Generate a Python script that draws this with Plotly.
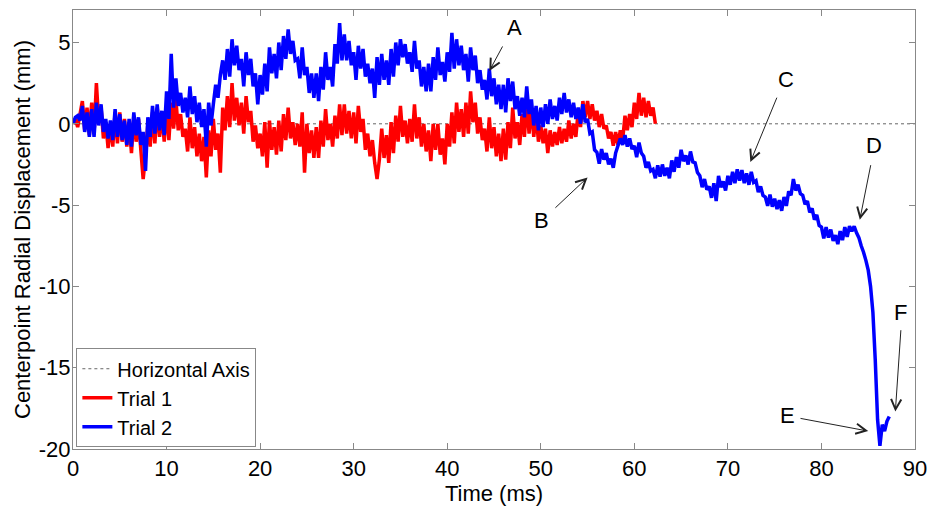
import numpy as np
import plotly.graph_objects as go

# sample spacing of both trials (ms)
dt = 0.25

trial2 = [
    0.0, 0.4, 0.5, 0.2,  1.1, -0.5, 0.7, -0.8,  0.9, -0.8, 1.3, -0.1,  1.2, -0.5, 0.3, -0.9,
    0.2, -1.0, 0.9, -0.8,  0.6, -1.0, 0.2, -1.3,  0.3, -1.4, 0.7, -0.7,  0.4, -1.3, -0.5, -2.9,
    0.4, -0.8, 1.1, -0.6,  1.2, -0.4, 0.8, -0.7,  2.0, 0.3, 4.3, 1.0,  2.8, 1.1, 1.9, 0.7,
    1.6, 0.4, 2.3, 0.6,  1.7, 0.1, 1.3, -0.2,  0.9, -1.4, 1.3, -0.1,  1.2, 2.4, 1.6, 3.0,
    3.9, 2.7, 4.6, 2.9,  5.2, 3.6, 4.8, 3.3,  4.0, 2.3, 4.4, 3.0,  4.0, 2.3, 3.1, 1.2,
    3.0, 1.8, 3.7, 2.0,  4.7, 3.1, 4.3, 2.8,  5.0, 3.3, 5.4, 4.0,  5.8, 4.3, 5.1, 3.9,
    4.0, 2.8, 4.7, 3.0,  3.5, 1.9, 3.1, 1.6,  3.1, 1.4, 3.5, 2.1,  4.4, 2.7, 3.5, 2.3,
    4.9, 3.7, 6.2, 3.9,  5.5, 3.9, 5.1, 3.6,  4.4, 2.7, 4.8, 3.4,  4.6, 2.9, 3.7, 2.5,
    3.4, 1.6, 4.1, 2.4,  4.3, 2.7, 3.9, 2.4,  4.6, 2.9, 5.0, 3.6,  5.2, 4.1, 4.9, 3.7,
    4.4, 3.2, 5.1, 3.4,  3.9, 2.3, 3.5, 2.0,  3.7, 2.0, 4.1, 2.7,  4.7, 3.0, 3.8, 2.6,
    4.4, 3.2, 5.6, 3.4,  5.2, 3.6, 4.8, 3.3,  4.3, 2.6, 4.7, 3.3,  4.2, 2.5, 3.3, 2.1,
    2.7, 1.5, 3.4, 1.7,  2.8, 1.2, 2.4, 0.9,  2.4, 0.7, 2.8, 1.4,  2.6, 0.9, 1.7, 0.5,
    1.6, 0.4, 2.3, 0.6,  1.5, -0.1, 1.1, -0.4,  1.0, -0.2, 1.2, 0.0,  1.5, 0.3, 1.1, 0.2,
    1.6, 0.6, 1.9, 0.7,  1.5, 0.4, 1.3, 0.3,  1.0, 0.0, 1.2, 0.1,  0.3, -0.6, -0.5, -1.6,
    -1.75, -2.45, -1.55, -2.2,  -1.8, -2.5, -2.15, -2.7,  -1.8, -1.35, -0.9, -1.3,
    -0.7, -1.4, -0.9, -1.55,  -1.35, -2.05, -1.15, -1.8,  -2.0, -2.7, -2.35, -2.9,
    -2.8, -3.35, -2.55, -3.25,  -2.5, -3.2, -2.7, -3.35,  -2.25, -2.95, -2.05, -2.7,
    -1.6, -2.3, -1.95, -2.5,  -1.7, -2.35, -2.4, -3.0,  -3.2, -3.9, -3.4, -4.05,
    -3.85, -4.55, -3.65, -4.75,  -3.2, -3.9, -3.55, -4.1,  -3.2, -3.75, -2.95, -3.65,
    -2.8, -3.5, -2.85, -3.65,  -3.05, -3.75, -2.95, -3.6,  -3.5, -4.2, -3.85, -4.4,
    -4.5, -5.05, -4.35, -5.1,  -4.6, -5.25, -4.7, -5.35,  -4.5, -5.05, -4.15, -4.4,
    -3.4, -4.1, -3.75, -4.3,  -4.4, -4.95, -4.75, -5.45,  -5.2, -5.9, -5.6, -6.25,
    -6.35, -7.05, -6.35, -7.0,  -6.5, -7.2, -6.85, -7.4,  -6.6, -7.15, -6.35, -6.95,
    -6.3, -6.6, -6.3, -6.7,  -7.0, -7.5, -7.9, -8.4,  -9.0, -10.0, -11.6, -14.5,
    -18.2, -19.8, -18.5, -18.9,  -18.3, -18.0,
]

trial1 = [
    0.0, 0.3, -0.2, 0.6,  1.4, -0.4, 1.0, -0.7,  1.3, -0.6, 2.5, 0.1,  1.0, -0.9, 0.1, -1.5,
    0.0, -1.4, 0.7, -1.2,  0.7, -1.1, 0.3, -1.4,  0.1, -1.8, 0.5, -1.1,  0.3, -1.6, -3.4, -2.0,
    0.0, -1.4, 0.7, -1.2,  1.0, -0.8, 0.6, -1.1,  0.9, -1.0, 1.3, -0.3,  1.5, -0.4, 0.6, -0.8,
    -0.3, -1.7, 0.4, -1.5,  -0.2, -2.0, -0.6, -2.3,  -0.8, -3.3, -0.4, -2.0,  0.3, -1.6, -0.6, -3.0,
    1.0, -0.4, 1.7, -0.2,  2.5, 0.2, 1.6, -0.1,  1.3, -0.6, 1.7, 0.1,  0.8, -1.1, -0.1, -1.5,
    -0.6, -2.0, 0.1, -2.7,  0.2, -1.6, -0.2, -1.9,  0.2, -1.7, 0.6, -1.0,  1.0, -0.9, 0.1, -1.3,
    0.0, -1.4, 0.7, -3.0,  0.0, -1.8, -0.4, -2.1,  -0.2, -2.1, 0.2, -1.4,  0.9, -1.0, 0.0, -1.4,
    0.5, -0.9, 1.2, -0.7,  1.2, -0.6, 0.8, -0.9,  0.7, -1.2, 1.1, -0.5,  0.3, -1.6, -0.6, -2.0,
    -1.0, -2.4, -3.4, -2.2,  -0.3, -2.1, -0.7, -2.4,  0.1, -1.8, 0.5, -1.1,  1.1, -0.8, 0.2, -1.2,
    0.3, -1.1, 1.2, -0.9,  0.4, -1.4, 0.0, -1.7,  -0.4, -2.3, 0.0, -1.6,  0.0, -1.9, -0.9, -2.5,
    0.0, -1.4, 0.7, -1.2,  1.3, -0.5, 0.9, -0.8,  1.3, -0.6, 2.0, 0.1,  1.3, -0.6, 0.4, -1.0,
    -0.3, -1.7, 0.4, -1.5,  -0.2, -2.0, -0.6, -2.3,  -0.3, -2.2, 0.1, -1.5,  1.0, -0.9, 0.1, -1.3,
    0.6, -0.8, 1.3, -0.6,  1.0, -0.8, 0.6, -1.1,  -0.1, -1.2, -0.3, -1.8,  -0.4, -1.4, -0.5, -1.3,
    -0.2, -1.2, -0.3, -1.1,  0.2, -0.9, 0.0, -0.8,  0.8, -0.2, 1.4, 0.4,  1.4, 0.3, 1.2, 0.2,
    0.8, -0.2, 0.6, -0.3,  -0.1, -0.9, -0.5, -1.35,  -0.5, -1.3, -0.4, -1.0,  0.5, -0.4, 0.6, -0.2,
    1.3, 0.3, 1.9, 0.5,  1.6, 0.4, 1.4, 0.5,  1.0, 0.0,
]

axis_x = [0, 90]
axis_y = [0, 0]

x_ticks = [0, 10, 20, 30, 40, 50, 60, 70, 80, 90]
x_tick_text = ["0", "10", "20", "30", "40", "50", "60", "70", "80", "90"]
y_ticks = [-20, -15, -10, -5, 0, 5]
y_tick_text = ["-20", "-15", "-10", "-5", "0", "5"]

labels = ["A", "B", "C", "D", "E", "F"]
label_pos = [(47.2, 5.9), (50.1, -5.95), (76.2, 2.75), (85.6, -1.35), (76.4, -17.95), (88.4, -11.6)]
arrow_tail = [(46.0, 4.85), (51.4, -5.25), (75.3, 1.7), (85.3, -2.45), (77.6, -18.1), (88.5, -12.6)]
arrow_head = [(44.5, 3.25), (55.0, -3.3), (72.4, -2.35), (84.1, -5.9), (85.0, -18.9), (87.9, -17.7)]

t1 = np.arange(len(trial1)) * dt
t2 = np.arange(len(trial2)) * dt

FONT = "Liberation Sans, Arial, sans-serif"
FS = 22

fig = go.Figure()
fig.add_trace(go.Scatter(x=axis_x, y=axis_y, mode="lines", name="Horizontal Axis",
                         line=dict(color="#666666", width=1, dash="dot")))
fig.add_trace(go.Scatter(x=t1, y=trial1, mode="lines", name="Trial 1",
                         line=dict(color="#FF0000", width=3.5, simplify=False)))
fig.add_trace(go.Scatter(x=t2, y=trial2, mode="lines", name="Trial 2",
                         line=dict(color="#0000FF", width=3.5, simplify=False)))

annotations = []
for lab, (tx, ty), (ax_, ay_), (hx, hy) in zip(labels, label_pos, arrow_tail, arrow_head):
    annotations.append(dict(x=tx, y=ty, xref="x", yref="y", text=lab, showarrow=False,
                            font=dict(family=FONT, size=FS, color="black")))
    annotations.append(dict(x=hx, y=hy, ax=ax_, ay=ay_, xref="x", yref="y", axref="x", ayref="y",
                            text="", showarrow=True, arrowhead=5, arrowsize=2, arrowwidth=1,
                            arrowcolor="#222222", standoff=0, startstandoff=0))

fig.update_layout(
    width=936, height=506,
    margin=dict(l=73, r=14, t=9, b=49),
    paper_bgcolor="white", plot_bgcolor="white",
    font=dict(family=FONT, size=FS, color="black"),
    showlegend=True,
    legend=dict(x=0.004, y=0.004, xanchor="left", yanchor="bottom",
                bgcolor="white", bordercolor="#888888", borderwidth=1,
                font=dict(family=FONT, size=20, color="black"),
                tracegroupgap=0, itemwidth=30),
    annotations=annotations,
)
fig.update_xaxes(range=[0, 90], tickvals=x_ticks, ticktext=x_tick_text,
                 ticks="inside", ticklen=6, tickcolor="#888888",
                 showline=True, linecolor="#888888", linewidth=1, mirror="ticks",
                 showgrid=False, zeroline=False,
                 title=dict(text="Time (ms)", standoff=0, font=dict(size=FS)),
                 tickfont=dict(size=FS))
fig.update_yaxes(range=[-20, 7], tickvals=y_ticks, ticktext=y_tick_text,
                 ticks="inside", ticklen=6, tickcolor="#888888",
                 showline=True, linecolor="#888888", linewidth=1, mirror="ticks",
                 showgrid=False, zeroline=False, ticklabelstandoff=-3,
                 title=dict(text="Centerpoint Radial Displacement (mm)", standoff=2, font=dict(size=FS)),
                 tickfont=dict(size=FS))

fig.write_html("out.html")
